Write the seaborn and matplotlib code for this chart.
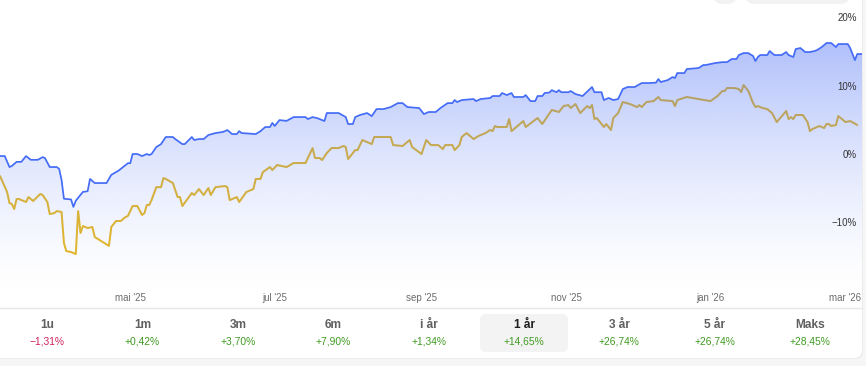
import numpy as np
import pandas as pd
import matplotlib
matplotlib.use("Agg")
import matplotlib.pyplot as plt
import matplotlib.dates as mdates
import matplotlib.transforms as mtransforms
from matplotlib.patches import FancyBboxPatch, PathPatch
import seaborn as sns

# ---------------- data ----------------
start_date = "2025-03-07"

fund_days = [0, 2, 4, 5, 7, 9, 11, 13, 16, 18, 19, 21, 24, 25, 26, 27, 30, 31, 32, 35,
             37, 38, 40, 45, 47, 49, 50, 52, 54, 55, 56, 58, 60, 62, 63, 64, 66, 68, 70, 73,
             74, 77, 78, 81, 82, 84, 86, 88, 91, 94, 95, 96, 98, 100, 101, 102, 108, 110, 112, 114,
             115, 116, 118, 121, 124, 129, 130, 132, 134, 137, 138, 143, 146, 147, 149, 150, 152, 155, 157, 159,
             162, 165, 168, 170, 172, 177, 179, 181, 184, 186, 189, 191, 192, 193, 195, 200, 201, 203, 207, 208,
             211, 212, 214, 216, 217, 221, 222, 224, 226, 227, 229, 230, 232, 233, 235, 236, 237, 240, 241, 243,
             246, 250, 251, 254, 255, 257, 259, 261, 263, 265, 268, 271, 274, 277, 278, 279, 282, 284, 285, 286,
             289, 290, 295, 297, 298, 302, 305, 307, 309, 311, 312, 314, 316, 318, 319, 320, 321, 324, 325, 327,
             330, 332, 333, 335, 336, 338, 340, 342, 344, 345, 347, 349, 351, 353, 354, 358, 359, 361, 362, 364]
fund_values = [-0.15, -0.15, -1.76, -1.6, -1.0, -1.0, -0.15, -0.7, -0.7, -0.3, -0.45, -1.76, -1.76, -2.05, -3.66, -6.4, -6.5, -7.6, -6.7, -5.4,
               -5.3, -3.5, -4.1, -4.1, -2.9, -2.5, -2.3, -1.76, -1.2, -1.2, 0.15, 0.15, -0.15, 0.15, 0.0, 0.15, 1.17, 1.6, 2.64, 2.64,
               2.34, 1.6, 1.6, 2.64, 2.2, 2.34, 2.34, 2.93, 3.22, 3.37, 3.5, 3.66, 3.07, 3.07, 3.5, 3.22, 3.07, 3.5, 4.1, 4.1,
               4.7, 4.25, 5.12, 5.0, 5.56, 5.56, 5.27, 5.56, 5.4, 4.98, 6.15, 6.15, 5.56, 4.54, 4.54, 5.56, 5.86, 6.15, 5.7, 6.73,
               6.73, 7.03, 7.6, 7.6, 7.03, 6.88, 6.0, 6.3, 6.3, 6.88, 7.6, 7.6, 8.05, 7.76, 8.05, 8.2, 7.9, 8.2, 8.35, 8.64,
               8.64, 9.08, 8.78, 9.08, 8.5, 8.5, 8.78, 7.9, 7.9, 8.64, 8.64, 9.08, 9.15, 9.5, 9.2, 9.5, 9.2, 9.2, 9.37, 8.93,
               8.64, 9.96, 9.2, 9.2, 8.05, 8.35, 8.05, 8.2, 9.66, 9.96, 9.96, 10.54, 10.54, 10.6, 11.13, 10.69, 10.98, 11.42, 11.27, 12.0,
               12.0, 12.59, 12.74, 13.18, 13.18, 13.47, 13.6, 13.6, 14.06, 14.06, 14.64, 14.93, 14.93, 14.5, 13.76, 14.35, 14.64, 14.64, 15.23, 14.64,
               14.64, 15.08, 14.64, 14.35, 15.52, 15.67, 15.08, 15.08, 15.23, 15.37, 15.81, 16.4, 16.4, 15.81, 16.25, 16.25, 15.67, 13.9, 14.79, 14.79]

index_days = [0, 3, 4, 5, 6, 7, 8, 11, 12, 14, 17, 18, 20, 21, 23, 24, 26, 27, 28, 30,
              32, 33, 34, 35, 37, 39, 40, 46, 47, 49, 51, 53, 54, 56, 58, 60, 61, 62, 63, 64,
              66, 68, 69, 70, 73, 75, 76, 77, 81, 82, 84, 86, 88, 89, 91, 95, 96, 97, 100, 101,
              104, 107, 108, 110, 111, 114, 115, 117, 121, 124, 129, 130, 132, 133, 135, 136, 138, 140, 143, 145,
              146, 147, 150, 151, 153, 155, 157, 158, 162, 165, 166, 170, 173, 174, 178, 180, 182, 185, 187, 188,
              191, 192, 194, 195, 197, 200, 202, 205, 207, 208, 209, 210, 214, 215, 216, 221, 222, 227, 229, 231,
              233, 236, 238, 240, 241, 243, 245, 248, 249, 250, 251, 252, 255, 256, 258, 259, 261, 263, 266, 269,
              270, 271, 273, 276, 278, 279, 284, 285, 286, 290, 295, 300, 303, 305, 306, 307, 310, 312, 313, 314,
              316, 318, 319, 320, 322, 324, 326, 328, 332, 333, 334, 335, 336, 339, 341, 342, 343, 346, 348, 349,
              350, 351, 353, 354, 357, 359, 362]
index_values = [-3.07, -5.42, -7.03, -7.17, -7.9, -6.44, -6.44, -6.88, -6.15, -6.73, -5.7, -5.86, -6.88, -8.64, -8.5, -8.2, -8.35, -12.88, -14.06, -14.2,
                -14.5, -8.2, -11.42, -10.4, -10.69, -10.54, -12.0, -13.3, -10.54, -9.66, -9.66, -9.08, -8.93, -7.47, -7.47, -8.78, -8.5, -7.32, -7.32, -6.6,
                -4.7, -4.7, -3.37, -3.5, -4.1, -6.15, -6.15, -7.47, -5.56, -5.86, -4.98, -5.86, -4.83, -5.86, -4.7, -4.54, -4.7, -6.6, -6.15, -6.88,
                -5.42, -4.98, -3.5, -3.5, -2.5, -1.76, -2.2, -1.46, -1.76, -1.17, -1.17, -0.44, 1.02, -0.44, -0.44, -0.73, 0.29, 1.02, 1.02, 1.32,
                1.17, -0.59, 0.73, 0.73, 2.2, 1.9, 1.6, 2.64, 2.64, 2.64, 1.46, 1.32, 2.2, 1.17, 0.15, 2.2, 1.46, 1.46, 0.88, 1.46,
                1.46, 0.73, 1.46, 2.64, 3.22, 2.34, 2.78, 3.22, 3.66, 3.5, 4.25, 4.1, 4.1, 5.27, 3.5, 4.98, 4.1, 5.42, 4.54, 5.56,
                6.6, 6.3, 7.17, 7.32, 6.88, 7.47, 6.15, 7.17, 6.88, 7.32, 5.27, 5.42, 4.1, 4.54, 3.66, 5.42, 6.15, 7.76, 7.47, 7.03,
                7.32, 7.03, 7.76, 7.9, 8.5, 8.05, 7.9, 7.17, 8.05, 8.5, 8.2, 7.9, 8.64, 9.37, 9.37, 9.81, 9.81, 9.66, 9.22, 10.25,
                9.37, 7.61, 7.03, 7.17, 6.88, 6.73, 6.15, 4.83, 6.44, 5.27, 5.56, 5.27, 5.86, 5.86, 4.83, 3.5, 3.8, 4.25, 3.95, 4.54,
                4.54, 4.25, 4.4, 5.71, 4.83, 4.98, 4.4]

tick_dates = ["2025-05-01", "2025-07-01", "2025-09-01", "2025-11-01", "2026-01-01", "2026-03-01"]
tick_labels = ["mai '25", "jul '25", "sep '25", "nov '25", "jan '26", "mar '26"]
y_ticks = [20, 10, 0, -10]
y_tick_labels = ["20%", "10%", "0%", "\u221210%"]

period_labels = ["1u", "1m", "3m", "6m", "i år", "1 år", "3 år", "5 år", "Maks"]
period_returns = ["\u22121,31%", "+0,42%", "+3,70%", "+7,90%", "+1,34%", "+14,65%", "+26,74%", "+26,74%", "+28,45%"]
selected_period = "1 år"

# ---------------- style ----------------
sns.set_theme(style="white")
plt.rcParams["font.family"] = ["Liberation Sans", "DejaVu Sans"]

BLUE = "#456cf6"
GOLD = "#e6b92a"
FILL = np.array([68, 106, 246]) / 255.0
GREEN = "#3f9a22"
RED = "#d0215f"

W, H = 866, 366
fig = plt.figure(figsize=(W / 100, H / 100), dpi=100)
fig.patch.set_facecolor("#f6f6f6")

# card background (pixel coords, origin bottom-left)
shadow = FancyBboxPatch((-20, 7), 883, 420, boxstyle="round,pad=0,rounding_size=8",
                        transform=None, facecolor="#ebebeb", edgecolor="none", zorder=0)
card = FancyBboxPatch((-20, 8), 882, 420, boxstyle="round,pad=0,rounding_size=8",
                      transform=None, facecolor="white", edgecolor="none", zorder=0)
fig.patches.extend([shadow, card])

# top-right partial buttons
for (x0, x1) in [(713, 737), (745, 850)]:
    fig.patches.append(FancyBboxPatch((x0, H - 4), x1 - x0, 20, boxstyle="round,pad=0,rounding_size=10",
                                      transform=None, facecolor="#f2f2f2", edgecolor="none", zorder=1))

# ---------------- chart ----------------
start = pd.Timestamp(start_date)
df_fund = pd.DataFrame({"date": start + pd.to_timedelta(fund_days, unit="D"), "value": fund_values})
df_index = pd.DataFrame({"date": start + pd.to_timedelta(index_days, unit="D"), "value": index_values})

ax = fig.add_axes([0, (H - 307) / H, 862 / W, 307 / H])
ax.set_zorder(2)
ax.set_facecolor("none")
ax.patch.set_alpha(0)
ymin, ymax = -22.25, 22.7
xmin, xmax = start, start + pd.Timedelta(days=364)

sns.lineplot(data=df_index, x="date", y="value", color=GOLD, lw=1.45, ax=ax, zorder=2)
sns.lineplot(data=df_fund, x="date", y="value", color=BLUE, lw=1.25, ax=ax, zorder=5)

# gradient fill under the fund line
poly = ax.fill_between(df_fund["date"], df_fund["value"], ymin, facecolor="none", edgecolor="none")
clip = PathPatch(poly.get_paths()[0], transform=ax.transData, facecolor="none", edgecolor="none")
ax.add_patch(clip)
n = 400
yy = np.linspace(ymin, ymax, n)
v_lo, v_hi = -21.0, 16.8
t = np.clip((yy - v_lo) / (v_hi - v_lo), 0, 1)
a = (t ** 1.5) * 0.43
grad = np.zeros((n, 1, 4))
grad[:, 0, :3] = FILL
grad[:, 0, 3] = a
x0n, x1n = mdates.date2num(xmin), mdates.date2num(xmax)
img = ax.imshow(grad, extent=[x0n, x1n, ymin, ymax], origin="lower", aspect="auto", zorder=3,
                interpolation="bilinear")
img.set_clip_path(clip)

ax.set_xlim(xmin, xmax)
ax.set_ylim(ymin, ymax)
ax.set_xticks([])
ax.set_yticks([])
ax.set_xlabel("")
ax.set_ylabel("")
for s in ax.spines.values():
    s.set_visible(False)

# x labels inside plot
tr_x = mtransforms.blended_transform_factory(ax.transData, ax.transAxes)
for d, lab in zip(tick_dates, tick_labels):
    if lab == tick_labels[-1]:
        ax.text(0.9985, 9 / 307, lab, transform=ax.transAxes, ha="right", va="center",
                fontsize=7.0, color="#6c6c6c", zorder=6)
    else:
        ax.text(pd.Timestamp(d), 9 / 307, lab, transform=tr_x, ha="center", va="center",
                fontsize=7.0, color="#6c6c6c", zorder=6)

# y labels inside plot on the right
tr_y = mtransforms.blended_transform_factory(ax.transAxes, ax.transData)
for v, lab in zip(y_ticks, y_tick_labels):
    ax.text(857 / 862, v, lab, transform=tr_y, ha="right", va="center",
            fontsize=7.0, color="#333333", zorder=6)

# separator line
fig.add_artist(plt.Line2D([0, 862 / W], [1 - 307.5 / H] * 2, color="#e8e8e8", lw=1.0,
                          transform=fig.transFigure, zorder=3))

# ---------------- period tabs ----------------
col_w = 95.4
for i, (lab, ret) in enumerate(zip(period_labels, period_returns)):
    cx = 47 + col_w * i
    sel = lab == selected_period
    if sel:
        fig.patches.append(FancyBboxPatch((480, H - 352), 88, 38, boxstyle="round,pad=0,rounding_size=6",
                                          transform=None, facecolor="#f3f3f3", edgecolor="none", zorder=1))
    fig.text(cx / W, 1 - 325 / H, lab, ha="center", va="center", fontsize=8.6,
             fontweight="bold", color="#1e1e1e" if sel else "#606060", zorder=3)
    col = RED if ret.startswith("\u2212") else GREEN
    fig.text(cx / W, 1 - 342 / H, ret, ha="center", va="center", fontsize=7.4,
             color=col, zorder=3)

fig.savefig("out.png", dpi=100, facecolor=fig.get_facecolor())
